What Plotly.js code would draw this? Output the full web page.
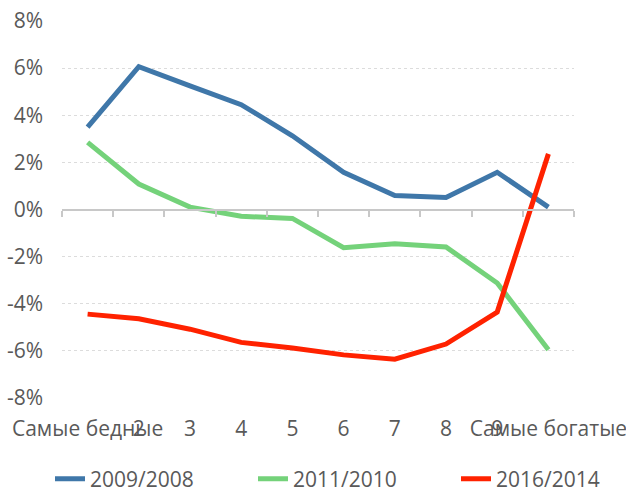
<!DOCTYPE html>
<html><head><meta charset="utf-8">
<script src="https://cdn.plot.ly/plotly-3.0.1.min.js"></script>
<style>html,body{margin:0;padding:0;background:#fff}#chart{width:626px;height:493px}</style>
</head><body><div id="chart"></div>
<script>
const categories = ["Самые бедные", "2", "3", "4", "5", "6", "7", "8", "9", "Самые богатые"];
const series1Name = "2009/2008";
const series1 = [3.5, 6.06, 5.25, 4.45, 3.13, 1.58, 0.59, 0.51, 1.58, 0.1];
const series2Name = "2011/2010";
const series2 = [2.85, 1.08, 0.1, -0.29, -0.38, -1.62, -1.45, -1.59, -3.12, -5.95];
const series3Name = "2016/2014";
const series3 = [-4.44, -4.64, -5.08, -5.64, -5.88, -6.17, -6.35, -5.71, -4.35, 2.36];
const yTickVals = [-8, -6, -4, -2, 0, 2, 4, 6, 8];
const yTickText = ["-8%", "-6%", "-4%", "-2%", "0%", "2%", "4%", "6%", "8%"];

const font = "Open Sans, sans-serif";
const fs = 21;
function tr(name, vals, color, legend) {
  return {type: "scatter", mode: "lines", name: name, x: categories, y: vals, legend: legend,
    line: {color: color, width: 5, shape: "linear"}, hoverinfo: "skip"};
}
const data = [
  tr(series1Name, series1, "#3f77a9", "legend"),
  tr(series2Name, series2, "#74d27a", "legend2"),
  tr(series3Name, series3, "#ff2200", "legend3"),
  {type: "scatter", mode: "lines", x: categories, y: series1, xaxis: "x2", showlegend: false,
   line: {width: 0, color: "rgba(0,0,0,0)"}, hoverinfo: "skip"}
];
function leg(x) {
  return {orientation: "h", xref: "container", yref: "paper", x: x, y: -0.215,
    xanchor: "left", yanchor: "middle", font: {family: font, size: fs, color: "#595959"},
    bgcolor: "rgba(0,0,0,0)"};
}
const layout = {
  width: 626, height: 493,
  margin: {l: 62, r: 52, t: 21, b: 95, autoexpand: false},
  paper_bgcolor: "#fff", plot_bgcolor: "#fff",
  font: {family: font, color: "#595959", size: fs},
  showlegend: true,
  xaxis: {type: "category", categoryorder: "array", categoryarray: categories,
    range: [-0.5, categories.length - 0.5],
    showgrid: false, zeroline: false, showline: false, ticks: "", tickangle: 0,
    ticklabelstandoff: 16, tickfont: {family: font, size: fs, color: "#595959"}},
  xaxis2: {type: "category", categoryorder: "array", categoryarray: categories,
    overlaying: "x", matches: "x", anchor: "free", position: 0.5,
    showline: true, linecolor: "#c8c8c8", linewidth: 2,
    ticks: "outside", tickson: "boundaries", ticklen: 6, tickwidth: 2, tickcolor: "#c8c8c8",
    showticklabels: false, showgrid: false, zeroline: false},
  yaxis: {range: [-8, 8], tickvals: yTickVals, ticktext: yTickText,
    showgrid: true, gridcolor: "#dcdcdc", gridwidth: 1, griddash: "dot",
    zeroline: false, showline: false, ticks: "", ticklabelstandoff: 18,
    tickfont: {family: font, size: fs, color: "#595959"}},
  legend: leg(50 / 626),
  legend2: leg(253 / 626),
  legend3: leg(456 / 626)
};
Plotly.newPlot("chart", data, layout, {displayModeBar: false, staticPlot: true});
</script></body></html>
